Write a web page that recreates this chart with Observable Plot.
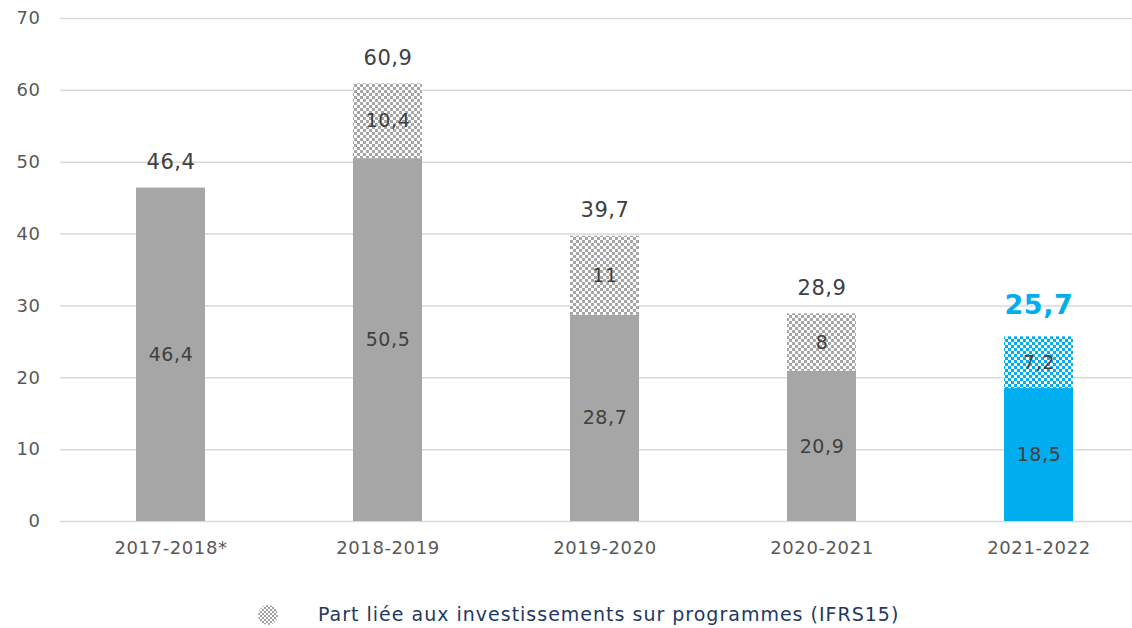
<!DOCTYPE html>
<html><head><meta charset="utf-8">
<script src="https://cdn.jsdelivr.net/npm/d3@7"></script>
<script src="https://cdn.jsdelivr.net/npm/@observablehq/plot@0.6"></script>
<style>
body{margin:0;background:#fff;font-family:"DejaVu Sans",sans-serif;}
#legend{position:relative;height:32px;}
#legend .sw{position:absolute;left:258px;top:9px;}
#legend .tx{position:absolute;left:318px;top:7px;font-size:19px;letter-spacing:1px;color:#1f3864;white-space:nowrap;font-family:"DejaVu Sans",sans-serif;}
</style></head><body>
<div id="chart"></div>
<div id="legend"></div>
<script>
const years = ["2017-2018*", "2018-2019", "2019-2020", "2020-2021", "2021-2022"];
const base = [46.4, 50.5, 28.7, 20.9, 18.5];
const ifrs = [0, 10.4, 11, 8, 7.2];
const totals = [46.4, 60.9, 39.7, 28.9, 25.7];
const yTicks = [0, 10, 20, 30, 40, 50, 60, 70];
const highlight = "2021-2022";
const legendLabel = "Part liée aux investissements sur programmes (IFRS15)";

const GRAY = "#a6a6a6", BLUE = "#00adef", TXT = "#404040";
const fmt = v => String(v).replace(".", ",");

const segs = [];
years.forEach((yr, i) => {
  segs.push({year: yr, kind: "base", y1: 0, y2: base[i], v: base[i], hl: yr === highlight});
  if (ifrs[i] > 0) segs.push({year: yr, kind: "ifrs", y1: base[i], y2: base[i] + ifrs[i], v: ifrs[i], hl: yr === highlight});
});
const tot = years.map((yr, i) => ({year: yr, t: totals[i], hl: yr === highlight}));

function patternDefs() {
  const defs = d3.create("svg:defs");
  [["hatchGray", GRAY], ["hatchBlue", BLUE]].forEach(([id, c]) => {
    const p = defs.append("pattern").attr("id", id).attr("patternUnits", "userSpaceOnUse")
      .attr("width", 6).attr("height", 6);
    p.append("rect").attr("width", 6).attr("height", 6).attr("fill", "#fff");
    p.append("rect").attr("width", 3).attr("height", 3).attr("fill", c);
    p.append("rect").attr("x", 3).attr("y", 3).attr("width", 3).attr("height", 3).attr("fill", c);
  });
  return defs.node();
}

const chart = Plot.plot({
  width: 1132,
  height: 596,
  marginLeft: 60,
  marginRight: 0,
  marginTop: 18,
  marginBottom: 75,
  style: {fontFamily: "'DejaVu Sans', sans-serif", background: "#fff", letterSpacing: "0.6px"},
  x: {domain: years, range: [60, 1149], paddingInner: 0.683, paddingOuter: 0.3415, label: null},
  y: {domain: [0, 70], label: null},
  marks: [
    () => patternDefs(),
    Plot.ruleY(yTicks, {stroke: "#d9d9d9", strokeWidth: 1.5}),
    Plot.axisY(yTicks, {tickSize: 0, tickPadding: 20, fontSize: 18, fill: "#595959", label: null}),
    Plot.axisX({tickSize: 0, tickPadding: 20, fontSize: 18, fill: "#595959", label: null}),
    Plot.barY(segs.filter(d => d.kind === "base" && !d.hl), {x: "year", y1: "y1", y2: "y2", fill: GRAY}),
    Plot.barY(segs.filter(d => d.kind === "base" && d.hl), {x: "year", y1: "y1", y2: "y2", fill: BLUE}),
    Plot.barY(segs.filter(d => d.kind === "ifrs" && !d.hl), {x: "year", y1: "y1", y2: "y2", fill: "url(#hatchGray)"}),
    Plot.barY(segs.filter(d => d.kind === "ifrs" && d.hl), {x: "year", y1: "y1", y2: "y2", fill: "url(#hatchBlue)"}),
    Plot.text(segs, {x: "year", y: d => (d.y1 + d.y2) / 2, text: d => fmt(d.v), fontSize: 19, fill: TXT}),
    Plot.text(tot.filter(d => !d.hl), {x: "year", y: "t", text: d => fmt(d.t), dy: -26, fontSize: 21, fill: TXT}),
    Plot.text(tot.filter(d => d.hl), {x: "year", y: "t", text: d => fmt(d.t), dy: -31, fontSize: 27, fontWeight: "bold", fill: BLUE})
  ]
});
document.getElementById("chart").appendChild(chart);

const lg = d3.select("#legend");
const sw = lg.append("svg").attr("class", "sw").attr("width", 20).attr("height", 20);
const pd = sw.append("defs").append("pattern").attr("id", "lgPat").attr("patternUnits", "userSpaceOnUse").attr("width", 4).attr("height", 4);
pd.append("rect").attr("width", 4).attr("height", 4).attr("fill", "#fff");
pd.append("rect").attr("width", 2).attr("height", 2).attr("fill", "#a0a0a0");
pd.append("rect").attr("x", 2).attr("y", 2).attr("width", 2).attr("height", 2).attr("fill", "#a0a0a0");
sw.append("circle").attr("cx", 10).attr("cy", 10).attr("r", 10).attr("fill", "url(#lgPat)");
lg.append("div").attr("class", "tx").text(legendLabel);
</script>
</body></html>
